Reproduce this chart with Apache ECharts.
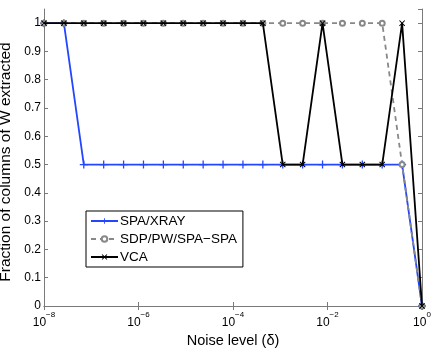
<!DOCTYPE html>
<html>
<head>
<meta charset="utf-8">
<script src="https://cdn.jsdelivr.net/npm/echarts@6/dist/echarts.min.js"></script>
<style>
html, body { margin: 0; padding: 0; background: #fff; }
#chart { width: 436px; height: 348px; }
</style>
</head>
<body>
<div id="chart"></div>
<script>
// noise levels (logspace 1e-8 .. 1, 20 points)
var noise = [1e-8, 2.637e-8, 6.952e-8, 1.833e-7, 4.833e-7, 1.274e-6, 3.360e-6, 8.859e-6,
    2.336e-5, 6.158e-5, 1.624e-4, 4.281e-4, 1.129e-3, 2.976e-3, 7.848e-3, 2.069e-2,
    5.456e-2, 0.1438, 0.3793, 1];
var spaXray = [1, 1, 0.5, 0.5, 0.5, 0.5, 0.5, 0.5, 0.5, 0.5, 0.5, 0.5, 0.5, 0.5, 0.5, 0.5, 0.5, 0.5, 0.5, 0];
var sdpPw = [1, 1, 1, 1, 1, 1, 1, 1, 1, 1, 1, 1, 1, 1, 1, 1, 1, 1, 0.5, 0];
var vca = [1, 1, 1, 1, 1, 1, 1, 1, 1, 1, 1, 1, 0.5, 0.5, 1, 0.5, 0.5, 0.5, 1, 0];
var yTicks = ['0', '0.1', '0.2', '0.3', '0.4', '0.5', '0.6', '0.7', '0.8', '0.9', '1'];

function pairs(ys) {
    return ys.map(function (v, i) { return [noise[i], v]; });
}

var plusPath = 'path://M4.2,0H5.8V4.2H10V5.8H5.8V10H4.2V5.8H0V4.2H4.2Z';
var crossPath = 'path://M1.2,0L5,3.8L8.8,0L10,1.2L6.2,5L10,8.8L8.8,10L5,6.2L1.2,10L0,8.8L3.8,5L0,1.2Z';
var axisCol = '#7a7a7a';
var font = 'Liberation Sans, Arial, sans-serif';

var dom = document.getElementById('chart');
var myChart = echarts.init(dom);
var option = {
    backgroundColor: '#fff',
    animation: false,
    textStyle: { fontFamily: font },
    grid: { left: 44, right: 14, top: 9, bottom: 42, containLabel: false, outerBoundsMode: 'none' },
    legend: {
        orient: 'vertical',
        left: 86,
        top: 211,
        padding: [3, 6, 3, 4],
        itemGap: 4,
        itemWidth: 27,
        itemHeight: 7,
        borderColor: '#000',
        borderWidth: 1,
        backgroundColor: '#fff',
        textStyle: { fontSize: 13.5, lineHeight: 14, color: '#000', fontFamily: font, padding: [0, 0, 0, -3] },
        data: ['SPA/XRAY', 'SDP/PW/SPA\u2212SPA', 'VCA']
    },
    xAxis: [{
        type: 'log',
        logBase: 10,
        min: 1e-8,
        max: 1,
        interval: 2,
        name: 'Noise level (\u03b4)',
        nameLocation: 'middle',
        nameGap: 23,
        nameTextStyle: { fontSize: 14.5, color: '#000', fontFamily: font },
        axisLine: { lineStyle: { color: axisCol } },
        axisTick: { inside: true, length: 4, lineStyle: { color: axisCol } },
        minorTick: { show: false },
        splitLine: { show: false },
        axisLabel: {
            margin: 5,
            formatter: function (v) {
                var e = Math.round(Math.log10(v));
                return '{b|10}{s|' + (e < 0 ? '\u2212' + (-e) : e) + '}';
            },
            rich: {
                b: { fontSize: 12, color: '#000', lineHeight: 18, verticalAlign: 'bottom', fontFamily: font },
                s: { fontSize: 8, color: '#000', lineHeight: 10, verticalAlign: 'top', fontFamily: font }
            }
        }
    }, {
        type: 'log',
        logBase: 10,
        min: 1e-8,
        max: 1,
        interval: 2,
        position: 'top',
        axisLine: { lineStyle: { color: axisCol } },
        axisTick: { inside: true, length: 4, lineStyle: { color: axisCol } },
        axisLabel: { show: false },
        splitLine: { show: false }
    }],
    yAxis: [{
        type: 'value',
        min: 0,
        max: 1.05,
        interval: 0.1,
        name: 'Fraction of columns of W extracted',
        nameLocation: 'middle',
        nameGap: 25,
        nameTextStyle: { fontSize: 15.5, color: '#000', fontFamily: font, padding: [0, 9, 0, 0] },
        axisLine: { show: true, lineStyle: { color: axisCol } },
        axisTick: { show: true, inside: true, length: 4, lineStyle: { color: axisCol } },
        splitLine: { show: false },
        axisLabel: {
            margin: 3,
            fontSize: 12,
            color: '#000',
            showMaxLabel: false,
            formatter: function (v) {
                var i = Math.round(v * 10);
                return Math.abs(v * 10 - i) < 1e-6 ? yTicks[i] : '';
            }
        }
    }, {
        type: 'value',
        min: 0,
        max: 1.05,
        interval: 0.1,
        position: 'right',
        axisLine: { show: true, lineStyle: { color: axisCol } },
        axisTick: { show: true, inside: true, length: 4, lineStyle: { color: axisCol } },
        axisLabel: { show: false },
        splitLine: { show: false }
    }],
    series: [{
        name: 'SPA/XRAY',
        type: 'line',
        data: pairs(spaXray),
        symbol: plusPath,
        symbolSize: 8,
        itemStyle: { color: '#2446ff' },
        lineStyle: { color: '#2446ff', width: 1.8 },
        z: 2
    }, {
        name: 'SDP/PW/SPA\u2212SPA',
        type: 'line',
        data: pairs(sdpPw),
        symbol: 'emptyCircle',
        symbolSize: 5,
        itemStyle: { color: '#888', borderColor: '#888', borderWidth: 1.6 },
        lineStyle: { color: '#888', width: 1.8, type: [5, 4] },
        z: 3
    }, {
        name: 'VCA',
        type: 'line',
        data: pairs(vca),
        symbol: crossPath,
        symbolSize: 6,
        itemStyle: { color: '#000' },
        lineStyle: { color: '#000', width: 1.8 },
        z: 4
    }]
};
myChart.setOption(option, true);
window.onresize = myChart.resize;
</script>
</body>
</html>
